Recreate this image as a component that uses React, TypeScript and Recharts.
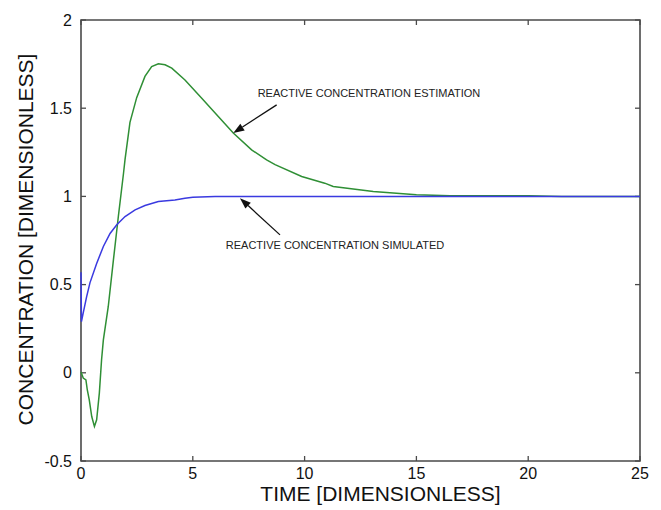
import React from 'react';
import {
  LineChart,
  Line,
  XAxis,
  YAxis,
  ReferenceLine,
  ReferenceDot,
  ReferenceArea,
} from 'recharts';

// values
const estimationTime = [
  0, 0.1, 0.22, 0.28, 0.37, 0.48, 0.6, 0.7, 0.82, 0.92, 1.0, 1.22, 1.45, 1.67, 1.9, 1.97,
  2.19, 2.49, 2.86, 3.16, 3.46, 3.76, 4.06, 4.65, 5.4, 6.14, 6.81, 7.63, 8.3, 8.68, 9.87,
  10.9, 11.28, 13.07, 15, 16.5, 18.7, 20, 21.5, 25,
];
const estimationValue = [
  0.004, -0.03, -0.04, -0.096, -0.153, -0.248, -0.304, -0.266, -0.115, 0.074, 0.187, 0.376,
  0.64, 0.886, 1.13, 1.21, 1.42, 1.56, 1.68, 1.736, 1.752, 1.746, 1.727, 1.66, 1.557, 1.453,
  1.359, 1.264, 1.207, 1.18, 1.113, 1.075, 1.056, 1.028, 1.01, 1.004, 1.003, 1.003, 1.0, 1.0,
];

const simulatedTime = [
  0, 0.02, 0.1, 0.25, 0.4, 0.7, 1.0, 1.3, 1.6, 1.97, 2.42, 2.86, 3.46, 4.2, 4.65, 5, 6, 25,
];
const simulatedValue = [
  0.57, 0.29, 0.34, 0.43, 0.51, 0.62, 0.716, 0.79, 0.839, 0.886, 0.924, 0.948, 0.971, 0.98,
  0.99, 0.995, 1.0, 1.0,
];

const timeTicks = [0, 5, 10, 15, 20, 25];
const concentrationTicks = [-0.5, 0, 0.5, 1, 1.5, 2];
const timeDomain = [0, 25];
const concentrationDomain = [-0.5, 2];

// annotations, in data units: [text x, text y, arrow start x, start y, arrow tip x, tip y]
const estimationNote = [12.88, 1.587, 8.75, 1.519, 6.81, 1.359];
const simulatedNote = [11.36, 0.726, 8.9, 0.782, 7.11, 0.99];

const estimationData = estimationTime.map((t, i) => ({ t, c: estimationValue[i] }));
const simulatedData = simulatedTime.map((t, i) => ({ t, c: simulatedValue[i] }));

const FONT = '"Liberation Sans", Arial, Helvetica, sans-serif';
const AXIS = '#4a4a4a';
const TICK = 5;

const Arrow = (props: any) => {
  const { x1, y1, x2, y2 } = props;
  const ang = Math.atan2(y2 - y1, x2 - x1);
  const len = 11;
  const half = 4;
  const bx = x2 - len * Math.cos(ang);
  const by = y2 - len * Math.sin(ang);
  const px = -Math.sin(ang) * half;
  const py = Math.cos(ang) * half;
  return (
    <g>
      <line x1={x1} y1={y1} x2={bx} y2={by} stroke="#111" strokeWidth={1.3} />
      <polygon points={`${x2},${y2} ${bx + px},${by + py} ${bx - px},${by - py}`} fill="#111" />
    </g>
  );
};

// short inward marks at both ends of a full-span reference line
const InwardTicks = (props: any) => {
  const { x1, y1, x2, y2 } = props;
  const vertical = Math.abs(x1 - x2) < 0.5;
  const top = Math.min(y1, y2);
  const bottom = Math.max(y1, y2);
  const left = Math.min(x1, x2);
  const right = Math.max(x1, x2);
  return vertical ? (
    <g stroke={AXIS} strokeWidth={1.3}>
      <line x1={x1} y1={bottom} x2={x1} y2={bottom - TICK} />
      <line x1={x1} y1={top} x2={x1} y2={top + TICK} />
    </g>
  ) : (
    <g stroke={AXIS} strokeWidth={1.3}>
      <line x1={left} y1={y1} x2={left + TICK} y2={y1} />
      <line x1={right} y1={y1} x2={right - TICK} y2={y1} />
    </g>
  );
};

const noteText = (text: string) => (props: any) => (
  <text
    x={props.cx}
    y={props.cy}
    textAnchor="middle"
    dominantBaseline="central"
    fontFamily={FONT}
    fontSize={11}
    fill="#222"
  >
    {text}
  </text>
);

export default function App() {
  const tickStyle = { fontSize: 16, fill: '#111', fontFamily: FONT };
  return (
    <div style={{ position: 'absolute', left: 0, top: 0, width: 661, height: 510, background: '#fff' }}>
      <LineChart width={661} height={510} margin={{ top: 20, right: 21, left: 21, bottom: 9 }}>
        <XAxis
          type="number"
          dataKey="t"
          domain={timeDomain}
          ticks={timeTicks}
          interval={0}
          axisLine={false}
          tickLine={false}
          tickSize={0}
          tickMargin={7}
          height={40}
          tick={tickStyle}
          label={{
            content: ({ viewBox }: any) => (
              <text
                x={viewBox.x + viewBox.width / 2 + 20}
                y={viewBox.y + 32}
                textAnchor="middle"
                dominantBaseline="central"
                fontFamily={FONT}
                fontSize={21}
                fill="#111"
              >
                TIME [DIMENSIONLESS]
              </text>
            ),
          }}
        />
        <YAxis
          type="number"
          domain={concentrationDomain}
          ticks={concentrationTicks}
          interval={0}
          axisLine={false}
          tickLine={false}
          tickSize={0}
          tickMargin={9}
          width={60}
          tick={tickStyle}
          label={{
            content: ({ viewBox }: any) => {
              const x = viewBox.x + 4.5;
              const y = viewBox.y + viewBox.height / 2 - 1;
              return (
                <text
                  x={x}
                  y={y}
                  transform={`rotate(-90, ${x}, ${y})`}
                  textAnchor="middle"
                  dominantBaseline="central"
                  fontFamily={FONT}
                  fontSize={21}
                  fill="#111"
                >
                  CONCENTRATION [DIMENSIONLESS]
                </text>
              );
            },
          }}
        />

        {/* frame round the plot and inward ticks on all four sides */}
        <ReferenceArea
          x1={timeDomain[0]}
          x2={timeDomain[1]}
          y1={concentrationDomain[0]}
          y2={concentrationDomain[1]}
          fill="#fff"
          fillOpacity={0}
          stroke={AXIS}
          strokeWidth={1.6}
          ifOverflow="visible"
        />
        {timeTicks.map((t) => (
          <ReferenceLine key={`tx${t}`} x={t} shape={InwardTicks} ifOverflow="visible" />
        ))}
        {concentrationTicks.map((c) => (
          <ReferenceLine key={`ty${c}`} y={c} shape={InwardTicks} ifOverflow="visible" />
        ))}

        <Line
          data={estimationData}
          dataKey="c"
          type="linear"
          stroke="#2f8f35"
          strokeWidth={1.5}
          dot={false}
          isAnimationActive={false}
        />
        <Line
          data={simulatedData}
          dataKey="c"
          type="linear"
          stroke="#3a3ae0"
          strokeWidth={1.5}
          dot={false}
          isAnimationActive={false}
        />
        <ReferenceLine
          segment={[
            { x: estimationNote[2], y: estimationNote[3] },
            { x: estimationNote[4], y: estimationNote[5] },
          ]}
          shape={Arrow}
        />
        <ReferenceLine
          segment={[
            { x: simulatedNote[2], y: simulatedNote[3] },
            { x: simulatedNote[4], y: simulatedNote[5] },
          ]}
          shape={Arrow}
        />
        <ReferenceDot
          x={estimationNote[0]}
          y={estimationNote[1]}
          r={1}
          shape={noteText('REACTIVE CONCENTRATION ESTIMATION')}
        />
        <ReferenceDot
          x={simulatedNote[0]}
          y={simulatedNote[1]}
          r={1}
          shape={noteText('REACTIVE CONCENTRATION SIMULATED')}
        />
      </LineChart>
    </div>
  );
}
